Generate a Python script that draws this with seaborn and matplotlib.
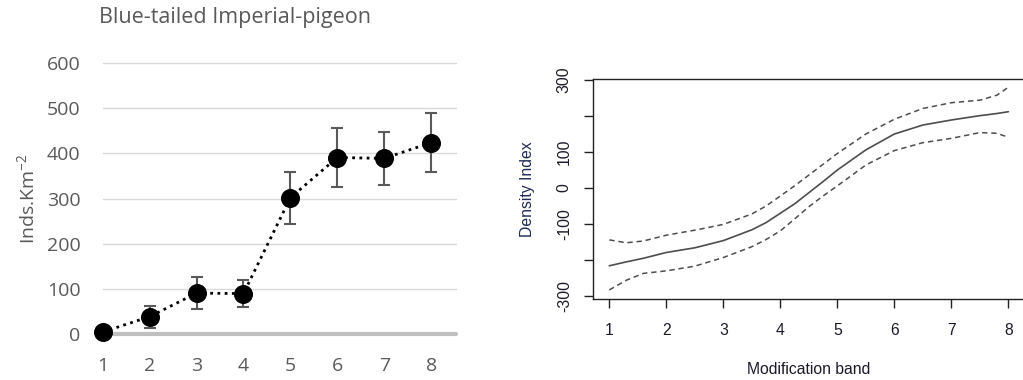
import numpy as np
import pandas as pd
import matplotlib
matplotlib.use("Agg")
import matplotlib.pyplot as plt
import seaborn as sns

# ---- Left panel data ----
bands = [1, 2, 3, 4, 5, 6, 7, 8]
density = [5, 39, 91, 90, 302, 391, 389, 424]
density_err = [0, 24, 35, 30, 57, 65, 59, 66]

# ---- Right panel data (fitted smooth with CI) ----
fit_x = [1, 1.3, 1.6, 2, 2.5, 3, 3.5, 3.75, 4, 4.25, 4.5, 4.75, 5, 5.5, 6, 6.5, 7, 7.5, 7.8, 8]
fit_mid = [-216, -205, -195, -179, -166, -146, -116, -96, -70, -44, -13, 18, 50, 106, 150, 175, 189, 201, 207, 212]
fit_upper = [-144, -152, -147, -131, -117, -101, -72, -50, -22, 6, 36, 66, 96, 150, 191, 221, 237, 244, 258, 280]
fit_lower = [-283, -256, -237, -230, -217, -193, -163, -143, -119, -86, -52, -22, 6, 64, 104, 126, 138, 154, 152, 141]

sns.set_style("white")
plt.rcParams['font.family'] = ['Open Sans', 'DejaVu Sans']
plt.rcParams['mathtext.fontset'] = 'custom'
plt.rcParams['mathtext.rm'] = 'Open Sans'

fig = plt.figure(figsize=(10.23, 3.8), dpi=100)

# ---------------- Left panel ----------------
ax1 = fig.add_axes([0.1004, 0.1203, 0.4453 - 0.1004, 0.8342 - 0.1203])
df1 = pd.DataFrame({"band": bands, "density": density, "err": density_err})
grey = "#595959"
for v in [100, 200, 300, 400, 500, 600]:
    ax1.axhline(v, color="#d9d9d9", lw=1.0, zorder=0, clip_on=False)
ax1.axhline(0, color="#bfbfbf", lw=3.0, zorder=1, clip_on=False)
ax1.errorbar(df1["band"], df1["density"], yerr=df1["err"], fmt="none",
             ecolor=grey, elinewidth=1.5, capsize=4.5, capthick=1.5, zorder=2, clip_on=False)
sns.lineplot(data=df1, x="band", y="density", ax=ax1, color="black", lw=2.0,
             linestyle=(0, (1, 1.6)), zorder=3, clip_on=False)
sns.scatterplot(data=df1, x="band", y="density", ax=ax1, color="black", s=160,
                edgecolor="black", zorder=4, clip_on=False)
ax1.set_xlim(1, 8.52)
ax1.set_ylim(0, 600)
ax1.set_xticks(bands)
ax1.set_yticks([0, 100, 200, 300, 400, 500, 600])
for s in ax1.spines.values():
    s.set_visible(False)
ax1.tick_params(axis="both", length=0, labelsize=14, colors=grey)
ax1.tick_params(axis="x", pad=16)
ax1.tick_params(axis="y", pad=16)
ax1.set_xlabel("")
ax1.set_ylabel(r"Inds.Km$\mathregular{^{-2}}$", fontsize=14, color=grey, labelpad=6)
fig.text(0.23, 0.955, "Blue-tailed Imperial-pigeon", fontsize=15.5, color=grey,
         ha="center", va="center")

# ---------------- Right panel ----------------
ax2 = fig.add_axes([0.58, 0.2124, 1.0013 - 0.58, 0.7913 - 0.2124])
df2 = pd.DataFrame({"x": fit_x, "mid": fit_mid, "upper": fit_upper, "lower": fit_lower})
line_col = "#4d4d4d"
sns.lineplot(data=df2, x="x", y="mid", ax=ax2, color=line_col, lw=1.2)
sns.lineplot(data=df2, x="x", y="upper", ax=ax2, color=line_col, lw=1.1, linestyle=(0, (3.5, 2.5)))
sns.lineplot(data=df2, x="x", y="lower", ax=ax2, color=line_col, lw=1.1, linestyle=(0, (3.5, 2.5)))
ax2.set_xlim(0.72, 8.28)
ax2.set_ylim(-309, 302)
ax2.set_xticks(bands)
ax2.set_yticks([-300, -200, -100, 0, 100, 200, 300])
ax2.set_yticklabels(["-300", "", "-100", "0", "100", "", "300"])
for s in ax2.spines.values():
    s.set_visible(True)
    s.set_color("#222222")
    s.set_linewidth(1.0)
ax2.tick_params(axis="both", direction="out", length=6.5, width=1.0, color="#222222",
                labelsize=11.3, labelcolor="#1a1a2a", left=True, bottom=True)
ax2.tick_params(axis="x", pad=10.5)
ax2.tick_params(axis="y", pad=9, labelrotation=90)
for lab in ax2.get_yticklabels():
    lab.set_verticalalignment("center")
for lab in ax2.get_xticklabels() + ax2.get_yticklabels():
    lab.set_fontfamily(["Liberation Sans", "DejaVu Sans"])
ax2.set_xlabel("Modification band", fontsize=11.3, color="#1a1a2a", labelpad=17,
               fontfamily=["Liberation Sans", "DejaVu Sans"])
ax2.set_ylabel("Density Index", fontsize=11.3, color="#1f2a55", labelpad=16,
               fontfamily=["Liberation Sans", "DejaVu Sans"])

fig.savefig("out.png", dpi=100)
